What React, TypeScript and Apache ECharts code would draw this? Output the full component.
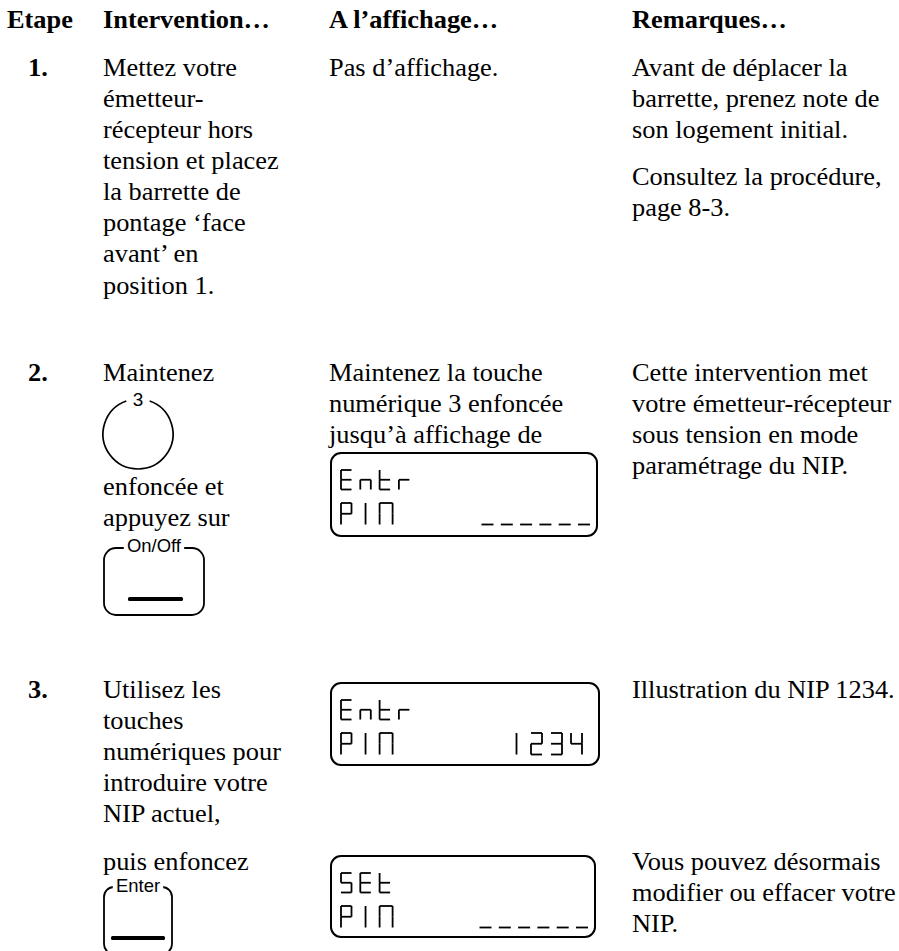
import React, { useEffect, useRef } from "react";
import * as echarts from "echarts";

// ---------- content ----------
const headers = ["Etape", "Intervention…", "A l’affichage…", "Remarques…"];
const stepNumbers = ["1.", "2.", "3."];

const step1Action = [
  "Mettez votre",
  "émetteur-",
  "récepteur hors",
  "tension et placez",
  "la barrette de",
  "pontage ‘face",
  "avant’ en",
  "position 1.",
];
const step1Display = ["Pas d’affichage."];
const step1Notes = ["Avant de déplacer la", "barrette, prenez note de", "son logement initial."];
const step1NotesMore = ["Consultez la procédure,", "page 8-3."];

const step2ActionBefore = ["Maintenez"];
const step2ActionMiddle = ["enfoncée et", "appuyez sur"];
const step2Display = ["Maintenez la touche", "numérique 3 enfoncée", "jusqu’à affichage de"];
const step2Notes = [
  "Cette intervention met",
  "votre émetteur-récepteur",
  "sous tension en mode",
  "paramétrage du NIP.",
];

const step3Action = ["Utilisez les", "touches", "numériques pour", "introduire votre", "NIP actuel,"];
const step3ActionAfter = ["puis enfoncez"];
const step3Notes = ["Illustration du NIP 1234."];
const step3NotesAfter = ["Vous pouvez désormais", "modifier ou effacer votre", "NIP."];

const keyLabels = ["3", "On/Off", "Enter"];
const lcdTopLines = ["Entr", "Entr", "SEt"];
const lcdBottomLines = ["PIN", "PIN", "PIN"];
const lcdFields = ["______", "1234", "______"];

// ---------- style ----------
const SERIF = '"Liberation Serif", "Times New Roman", Times, serif';
const SANS = '"Liberation Sans", Arial, Helvetica, sans-serif';
const FS = 25;
const SX = 1.055;
const LH = 31.1;

const SEGMENTS: Record<string, string> = {
  E: "adefg",
  n: "ceg",
  t: "defg",
  r: "eg",
  S: "afgcd",
  P: "abefg",
  I: "i",
  N: "abcef",
  "1": "i",
  "2": "abged",
  "3": "abgcd",
  "4": "fgbc",
  _: "d",
};

function textEl(x: number, baseline: number, text: string, bold = false): any {
  return {
    type: "text",
    x,
    y: baseline - 0.3375 * FS,
    scaleX: SX,
    style: {
      text,
      x: 0,
      y: 0,
      fill: "#000",
      font: `${bold ? "bold " : ""}${FS}px ${SERIF}`,
      align: "left",
      verticalAlign: "middle",
      textAlign: "left",
      textVerticalAlign: "middle",
    },
  };
}

function para(x: number, baseline0: number, lines: string[], lh = LH, bold = false): any[] {
  return lines.map((t, i) => textEl(x, baseline0 + i * lh, t, bold));
}

function label(cx: number, cy: number, text: string, size = 17.5): any {
  return {
    type: "text",
    x: cx,
    y: cy,
    z: 10,
    scaleX: SX,
    style: {
      text,
      x: 0,
      y: 0,
      fill: "#000",
      font: `${size}px ${SANS}`,
      align: "center",
      verticalAlign: "middle",
      textAlign: "center",
      textVerticalAlign: "middle",
      backgroundColor: "#fff",
      padding: [0, 3],
    },
  };
}

function segChar(ch: string, x0: number, top: number, w: number, h: number, out: any[]) {
  const mid = top + h / 2;
  const bot = top + h;
  const r = x0 + w;
  const defs: Record<string, number[]> = {
    a: [x0, top, r, top],
    b: [r, top, r, mid],
    c: [r, mid, r, bot],
    d: [x0, bot, r, bot],
    e: [x0, mid, x0, bot],
    f: [x0, top, x0, mid],
    g: [x0, mid, r, mid],
    i: [x0 + w / 2, top, x0 + w / 2, bot],
  };
  for (const s of SEGMENTS[ch] || "") {
    const [x1, y1, x2, y2] = defs[s];
    out.push({
      type: "line",
      z: 5,
      shape: { x1, y1, x2, y2 },
      style: { stroke: "#000", lineWidth: 1.8, lineCap: "butt" },
    });
  }
}

function lcd(box: { x: number; y: number; w: number; h: number }, topLine: string, bottomLine: string, field: string): any[] {
  const out: any[] = [];
  out.push({
    type: "rect",
    shape: { x: box.x, y: box.y, width: box.w, height: box.h, r: 10 },
    style: { fill: "none", stroke: "#000", lineWidth: 2 },
  });
  const pitch = 19.3;
  topLine.split("").forEach((ch, i) => segChar(ch, box.x + 10 + i * pitch, box.y + 17, 10.5, 19.5, out));
  bottomLine.split("").forEach((ch, i) =>
    segChar(ch, box.x + 10 + i * pitch, box.y + 50, ch === "N" ? 13 : 10.5, 21.5, out)
  );
  const isDigits = /\d/.test(field);
  const fp = isDigits ? 20 : 19.3;
  const fw = isDigits ? 11 : 12;
  const rightEnd = box.x + box.w - (isDigits ? 17 : 7);
  const n = field.length;
  field.split("").forEach((ch, i) => {
    const x0 = rightEnd - fw - (n - 1 - i) * fp;
    segChar(ch, x0, box.y + 50, fw, 21.5, out);
  });
  return out;
}

function buildElements(): any[] {
  const els: any[] = [];
  const colX = [7, 103, 329, 632];
  const numX = 28;

  // header
  headers.forEach((h, i) => els.push(textEl(colX[i], 28, h, true)));

  // step 1
  els.push(textEl(numX, 76, stepNumbers[0], true));
  els.push(...para(colX[1], 76, step1Action));
  els.push(...para(colX[2], 76, step1Display));
  els.push(...para(colX[3], 76, step1Notes));
  els.push(...para(colX[3], 185, step1NotesMore));

  // step 2
  els.push(textEl(numX, 381, stepNumbers[1], true));
  els.push(...para(colX[1], 381, step2ActionBefore));
  // round key "3"
  els.push({
    type: "arc",
    shape: {
      cx: 138,
      cy: 434,
      r: 35,
      startAngle: -Math.PI / 2 + 0.34,
      endAngle: (3 * Math.PI) / 2 - 0.34,
      clockwise: true,
    },
    style: { fill: "none", stroke: "#000", lineWidth: 1.7 },
  });
  els.push(label(138, 400, keyLabels[0], 18));
  els.push(...para(colX[1], 495, step2ActionMiddle, 31.5));
  // On/Off key
  els.push({
    type: "rect",
    shape: { x: 104, y: 548, width: 100, height: 67, r: 12 },
    style: { fill: "none", stroke: "#000", lineWidth: 1.8 },
  });
  els.push(label(154, 546, keyLabels[1]));
  els.push({
    type: "rect",
    shape: { x: 128, y: 597, width: 55, height: 4, r: 1.5 },
    style: { fill: "#000" },
  });
  els.push(...para(colX[2], 381, step2Display, 31));
  els.push(...lcd({ x: 331, y: 453, w: 266, h: 83 }, lcdTopLines[0], lcdBottomLines[0], lcdFields[0]));
  els.push(...para(colX[3], 381, step2Notes));

  // step 3
  els.push(textEl(numX, 698, stepNumbers[2], true));
  els.push(...para(colX[1], 698, step3Action, 31));
  els.push(...para(colX[1], 870, step3ActionAfter));
  // Enter key
  els.push({
    type: "rect",
    shape: { x: 104, y: 887, width: 68, height: 67, r: 10 },
    style: { fill: "none", stroke: "#000", lineWidth: 1.8 },
  });
  els.push(label(138, 886, keyLabels[2]));
  els.push({
    type: "rect",
    shape: { x: 111, y: 936, width: 54, height: 4, r: 1.5 },
    style: { fill: "#000" },
  });
  els.push(...lcd({ x: 331, y: 683, w: 268, h: 82 }, lcdTopLines[1], lcdBottomLines[1], lcdFields[1]));
  els.push(...lcd({ x: 331, y: 856, w: 264, h: 81 }, lcdTopLines[2], lcdBottomLines[2], lcdFields[2]));
  els.push(...para(colX[3], 698, step3Notes));
  els.push(...para(colX[3], 870, step3NotesAfter, 31.3));

  return els;
}

export default function App() {
  const ref = useRef<HTMLDivElement>(null);
  useEffect(() => {
    if (!ref.current) return;
    const chart = echarts.init(ref.current, null, { renderer: "svg", width: 899, height: 951 });
    chart.setOption({
      animation: false,
      backgroundColor: "#fff",
      graphic: { elements: buildElements() },
    });
    return () => chart.dispose();
  }, []);
  return (
    <div
      ref={ref}
      style={{ position: "absolute", left: 0, top: 0, width: 899, height: 951, background: "#fff" }}
    />
  );
}
